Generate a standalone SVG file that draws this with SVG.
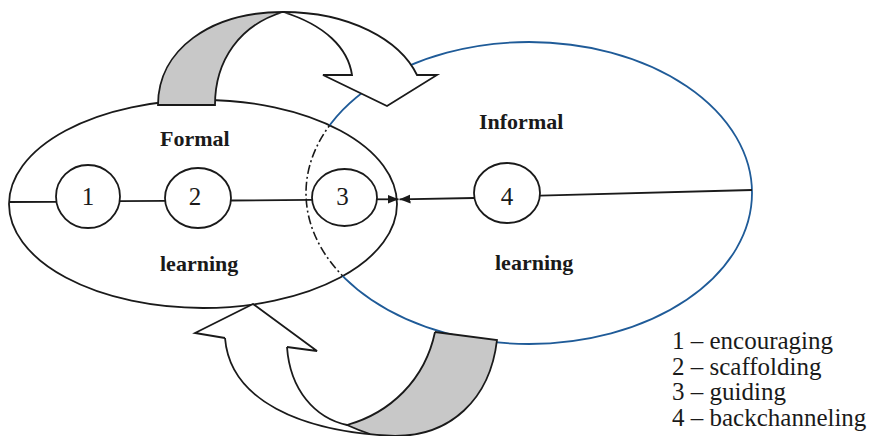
<svg xmlns="http://www.w3.org/2000/svg" width="873" height="436" viewBox="0 0 873 436">
<style>
  .ln{fill:none;stroke:#1a1a1a;stroke-width:1.8}
  .node{fill:#fff;stroke:#1a1a1a;stroke-width:1.8}
  .num{font-family:"Liberation Serif","Times New Roman",serif;font-size:25px;fill:#1a1a1a;text-anchor:middle}
  .lbl{font-family:"Liberation Serif","Times New Roman",serif;font-size:22px;font-weight:bold;fill:#1a1a1a}
  .leg{font-family:"Liberation Serif","Times New Roman",serif;font-size:25px;fill:#1a1a1a}
  .blue{fill:none;stroke:#1f5b98;stroke-width:1.8}
  .dd{fill:none;stroke:#1a1a1a;stroke-width:1.6;stroke-dasharray:9 3 2 3}
  .gray{fill:#c8c8c8;stroke:#1a1a1a;stroke-width:1.8;stroke-linejoin:miter}
  .white{fill:#fff;stroke:#1a1a1a;stroke-width:1.8;stroke-linejoin:miter}
</style>
<defs>
  <clipPath id="inL"><ellipse cx="203" cy="204" rx="194" ry="104"/></clipPath>
  <clipPath id="outL"><path clip-rule="evenodd" d="M0,0H873V436H0Z M9,204 A194,104 0 1,0 397,204 A194,104 0 1,0 9,204Z"/></clipPath>
  <marker id="ah" markerUnits="userSpaceOnUse" markerWidth="12" markerHeight="10" refX="11" refY="4.5" orient="auto">
    <path d="M0,0 L11,4.5 L0,9 Z" fill="#1a1a1a"/>
  </marker>
</defs>
<rect width="873" height="436" fill="#fff"/>

<g id="formal-learning">
  <ellipse cx="203" cy="204" rx="194" ry="104" class="ln"/>
  <text x="160" y="146" class="lbl">Formal</text>
  <text x="160" y="271" class="lbl">learning</text>
</g>

<g id="informal-learning">
  <ellipse cx="529" cy="193" rx="223" ry="151" class="blue" clip-path="url(#outL)"/>
  <ellipse cx="529" cy="193" rx="223" ry="151" class="dd" clip-path="url(#inL)"/>
  <text x="479" y="129" class="lbl">Informal</text>
  <text x="495" y="270" class="lbl">learning</text>
</g>

<g id="connectors">
  <line x1="9" y1="202" x2="56" y2="201.8" class="ln"/>
  <line x1="120" y1="201.2" x2="165" y2="200.8" class="ln"/>
  <line x1="231" y1="200.5" x2="312" y2="199.8" class="ln"/>
  <line x1="377" y1="199.3" x2="398.5" y2="199.3" class="ln" marker-end="url(#ah)"/>
  <line x1="474" y1="198" x2="399.5" y2="199.3" class="ln" marker-end="url(#ah)"/>
  <line x1="540" y1="195.7" x2="752" y2="190" class="ln"/>
</g>

<g id="node-1">
  <ellipse cx="88" cy="196.5" rx="32" ry="31.5" class="node"/>
  <text x="88" y="205" class="num">1</text>
</g>
<g id="node-2">
  <ellipse cx="198" cy="198" rx="33" ry="30" class="node"/>
  <text x="195" y="205" class="num">2</text>
</g>
<g id="node-3">
  <ellipse cx="344.5" cy="197.5" rx="32.5" ry="28.5" class="node"/>
  <text x="342.5" y="205" class="num">3</text>
</g>
<g id="node-4">
  <ellipse cx="507" cy="193" rx="33" ry="30" class="node"/>
  <text x="507" y="205" class="num">4</text>
</g>

<g id="top-arrow">
  <path class="gray" d="M158,105 C158,50 210,12 283,12 C240,25 215,60 215,105 Z"/>
  <path class="white" d="M283,12 C350,12 400,40 417,75 L437,75 L387,106 L323,75 L352,75 C348,48 325,25 283,12 Z"/>
</g>

<g id="bottom-arrow">
  <path fill="#fff" d="M253,304 L317,351 L287,347 C290,390 315,418 347,425 L395,436 C300,432 230,400 225,338 L195,333 Z"/>
  <path fill="#c8c8c8" d="M347,425 C390,413 425,380 435,332 L497,340 C490,400 450,436 395,436 C385,436 378,435.5 370,434 Q358,430 347,425 Z"/>
  <path class="ln" d="M225,338 C230,400 300,432 395,436 C450,436 490,400 497,340 L435,332"/>
  <path class="ln" d="M287,347 C290,390 315,418 347,425 Q358,430 370,434"/>
  <path class="ln" d="M347,425 C390,413 425,380 435,332"/>
  <path class="ln" stroke-linejoin="miter" d="M225,338 L195,333 L253,304 L317,351 L287,347"/>
</g>

<g id="legend">
  <text x="672" y="349" class="leg">1 – encouraging</text>
  <text x="672" y="375" class="leg">2 – scaffolding</text>
  <text x="672" y="400" class="leg">3 – guiding</text>
  <text x="672" y="426" class="leg">4 – backchanneling</text>
</g>
</svg>
